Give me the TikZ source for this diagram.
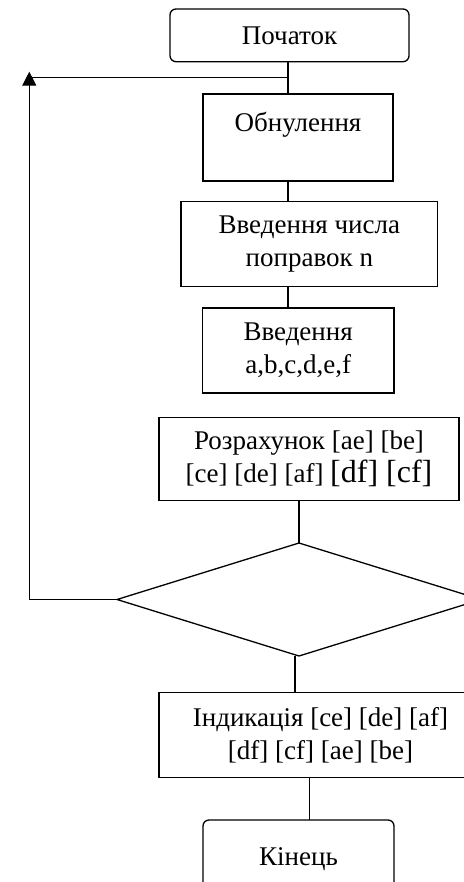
\documentclass[tikz,border=0pt]{standalone}
\usepackage{fontspec}
\setmainfont{Liberation Serif}
\usetikzlibrary{shapes.geometric,arrows.meta}

\begin{document}
\begin{tikzpicture}[x=1pt,y=-1pt,
  every node/.style={font=\fontsize{27}{33}\selectfont, inner sep=0pt, outer sep=0pt},
  box/.style={draw, line width=1.3pt, rectangle, align=center, anchor=north west},
  term/.style={box, rounded corners=6pt},
  decision/.style={draw, line width=1.3pt, diamond, inner sep=0pt},
  link/.style={line width=1.3pt},
  arrowup/.style={link, -{Triangle[width=14pt,length=14pt]}},
]
\useasboundingbox[fill=white] (0,0) rectangle (463,882);

% blocks of the flow chart
\node[term, minimum width=239pt, minimum height=52.7pt, text height=18pt, text depth=0pt]
  (start) at (170,9) {Початок};
\node[box, minimum width=190pt, minimum height=87pt, text height=18pt, text depth=30pt]
  (obn) at (203,94) {Обнулення};
\node[box, minimum width=256.7pt, minimum height=85pt]
  (num) at (181,201.7) {Введення числа\\поправок n};
\node[box, minimum width=191.7pt, minimum height=85pt]
  (abc) at (202.3,308) {Введення\\a,b,c,d,e,f};
\node[box, minimum width=300pt, minimum height=83pt]
  (calc) at (159,417.3) {Розрахунок [ae] [be]\\{}[ce] [de] [af] {\fontsize{32}{33}\selectfont[df] [cf]}};
\node[decision, minimum width=364pt, minimum height=113pt]
  (dia) at (299,599.5) {};
\node[box, minimum width=323pt, minimum height=85pt]
  (ind) at (159,692.3) {Індикація [ce] [de] [af]\\{}[df] [cf] [ae] [be]};
\node[term, minimum width=191pt, minimum height=72pt, text height=18pt, text depth=0pt]
  (end) at (203,820) {Кінець};

% connector columns and the loop back
\coordinate (j1) at (288,77.7);
\coordinate (c2) at (295,0);
\coordinate (c3) at (309.3,0);
\coordinate (fbtop) at (29.3,71.7);

\draw[link] (start.south -| j1) -- (obn.north -| j1);
\draw[link] (obn.south -| j1) -- (num.north -| j1);
\draw[link] (num.south -| j1) -- (abc.north -| j1);
\draw[link] (calc.south -| dia.north) -- (dia.north);
\draw[link] (dia.south -| c2) -- (ind.north -| c2);
\draw[link] (ind.south -| c3) -- (end.north -| c3);

\draw[arrowup] (dia.west) -| (fbtop);
\draw[link] (fbtop |- j1) -- (j1);
\end{tikzpicture}
\end{document}
